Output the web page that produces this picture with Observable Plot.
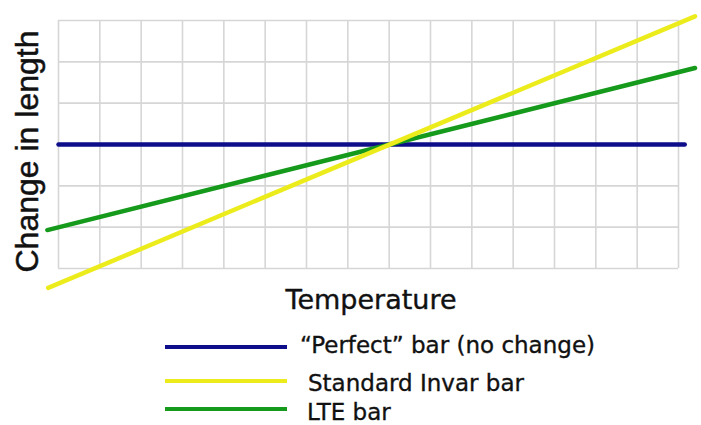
<!DOCTYPE html>
<html><head><meta charset="utf-8">
<script src="https://cdn.jsdelivr.net/npm/d3@7"></script>
<script src="https://cdn.jsdelivr.net/npm/@observablehq/plot@0.6"></script>
<style>
body{margin:0;background:#fff;font-family:"DejaVu Sans",Verdana,sans-serif;}
#wrap{position:relative;width:701px;height:425px;overflow:hidden;background:#fff;}
#wrap svg{position:absolute;left:0;top:0;}
.sw{position:absolute;left:165px;width:122px;height:4px;}
.lbl{position:absolute;font-size:23px;color:#111;white-space:nowrap;line-height:30px;-webkit-text-stroke:0.35px #111;}
</style></head><body><div id="wrap"></div>
<script>
const seriesNames = ["“Perfect” bar (no change)", "Standard Invar bar", "LTE bar"];
const seriesColors = ["#0e0e8a", "#ecec1c", "#169a1c"];
const perfectT = [0, 15.15], perfectV = [0, 0];
const invarT = [-0.25, 15.4], invarV = [-3.47, 3.1];
const lteT = [-0.27, 15.4], lteV = [-2.07, 1.85];
const gridXTicks = d3.range(0, 16);
const gridYTicks = d3.range(-3, 4);
const xLabel = "Temperature";
const yLabel = "Change in length";

const rows = [];
perfectT.forEach((t, i) => rows.push({series: seriesNames[0], t, v: perfectV[i]}));
lteT.forEach((t, i) => rows.push({series: seriesNames[2], t, v: lteV[i]}));
invarT.forEach((t, i) => rows.push({series: seriesNames[1], t, v: invarV[i]}));

const plot = Plot.plot({
  width: 701, height: 320,
  marginLeft: 58, marginRight: 23, marginTop: 20, marginBottom: 52,
  x: {domain: [0, 15], axis: null},
  y: {domain: [-3, 3], axis: null},
  color: {domain: seriesNames, range: seriesColors},
  style: {background: "#fff", overflow: "visible", fontFamily: "DejaVu Sans, Verdana, sans-serif"},
  marks: [
    Plot.ruleX(gridXTicks, {x: d => d, stroke: "#d6d6d6", strokeWidth: 1.6}),
    Plot.ruleY(gridYTicks, {y: d => d, stroke: "#d6d6d6", strokeWidth: 1.6}),
    Plot.line(rows, {x: "t", y: "v", z: "series", stroke: "series", strokeWidth: 4.5}),
    Plot.text([yLabel], {frameAnchor: "left", dx: -31, dy: 7, rotate: -90, textAnchor: "middle", lineAnchor: "middle", fontSize: 32, fontFamily: "Liberation Sans, Arial, sans-serif", fill: "#111", stroke: "#111", strokeWidth: 0.5}),
    Plot.text([xLabel], {frameAnchor: "bottom", dx: 2.5, dy: 32, lineAnchor: "middle", fontSize: 27, fill: "#111", stroke: "#111", strokeWidth: 0.4})
  ]
});
const wrap = document.getElementById("wrap");
wrap.appendChild(plot);

const lineCenters = [347, 381, 409];
const textTops = [329.5, 367.5, 396.5];
const textLeft = [300, 308, 307];
seriesNames.forEach((name, i) => {
  const sw = document.createElement("div");
  sw.className = "sw";
  sw.style.top = (lineCenters[i] - 2) + "px";
  sw.style.background = seriesColors[i];
  wrap.appendChild(sw);
  const lb = document.createElement("div");
  lb.className = "lbl";
  lb.style.left = textLeft[i] + "px";
  lb.style.top = textTops[i] + "px";
  lb.textContent = name;
  wrap.appendChild(lb);
});
</script></body></html>
